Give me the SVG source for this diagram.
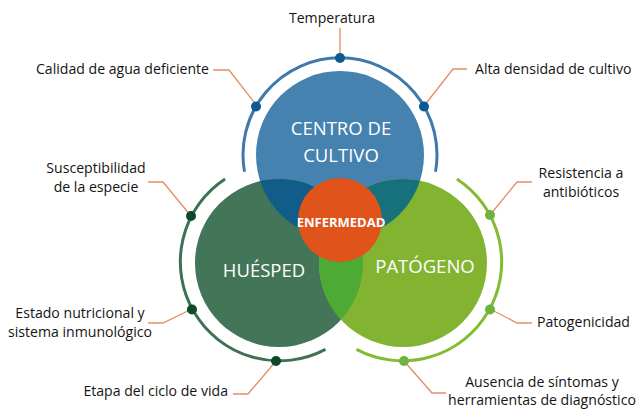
<svg xmlns="http://www.w3.org/2000/svg" width="636" height="410" viewBox="0 0 636 410">
<style>
.lbl{font-family:"Open Sans","Liberation Sans",sans-serif;font-size:14.1px;fill:#141414}
.big{font-family:"Open Sans","Liberation Sans",sans-serif;font-size:18.5px;fill:#ffffff}
.mid{font-family:"Open Sans","Liberation Sans",sans-serif;font-size:13px;font-weight:bold;fill:#ffffff}
.lead{fill:none;stroke:#e38d63;stroke-width:1.3}
.arc{fill:none;stroke-width:3}
</style>
<defs>
<clipPath id="cB"><circle cx="340" cy="155" r="84"/></clipPath>
<clipPath id="cDG"><circle cx="279" cy="263" r="84"/></clipPath>
</defs>
<rect width="636" height="410" fill="#ffffff"/>
<g id="connectors">
<path class="lead" d="M340,28 V58"/>
<path class="lead" d="M213,70 H229 L257,106"/>
<path class="lead" d="M424,106 L453,69 H467"/>
<path class="lead" d="M148,182 H163 L191,216"/>
<path class="lead" d="M148,323 H163 L192,309"/>
<path class="lead" d="M233,394 H248 L276,361"/>
<path class="lead" d="M490,215 L517,182 H532"/>
<path class="lead" d="M490,309 L517,323 H532"/>
<path class="lead" d="M404,361 L432,393 H446"/>
</g>
<g id="centro">
<circle cx="340" cy="155" r="84" fill="#4682b0"/>
<path class="arc" stroke="#3f79ab" d="M244.5,171.8 A97,97 0 1 1 435.5,171.8"/>
<circle cx="340" cy="58" r="5" fill="#0b5a92"/>
<circle cx="256" cy="106.5" r="5" fill="#0b5a92"/>
<circle cx="424" cy="106.5" r="5" fill="#0b5a92"/>
</g>
<g id="huesped">
<circle cx="279" cy="263" r="84" fill="#437558"/>
<path class="arc" stroke="#3e7256" d="M225.1,179 A99,99 0 0 0 325.5,349.4"/>
<circle cx="191" cy="216" r="5" fill="#0c4a2a"/>
<circle cx="192" cy="309.5" r="5" fill="#0c4a2a"/>
<circle cx="276" cy="361" r="5" fill="#0c4a2a"/>
</g>
<g id="patogeno">
<circle cx="403" cy="263" r="84" fill="#82b432"/>
<path class="arc" stroke="#84bb30" d="M456.9,179 A99,99 0 0 1 356.5,349.4"/>
<circle cx="490" cy="215" r="5" fill="#6db33f"/>
<circle cx="490" cy="309.5" r="5" fill="#6db33f"/>
<circle cx="404" cy="361" r="5" fill="#6db33f"/>
</g>
<g id="overlaps">
<circle cx="279" cy="263" r="84" fill="#0f5d88" clip-path="url(#cB)"/>
<circle cx="403" cy="263" r="84" fill="#17717d" clip-path="url(#cB)"/>
<circle cx="403" cy="263" r="84" fill="#4dab34" clip-path="url(#cDG)"/>
</g>
<g id="enfermedad">
<circle cx="340" cy="220" r="42" fill="#e0531a"/>
<text class="mid" x="341" y="227" text-anchor="middle">ENFERMEDAD</text>
</g>
<g id="titles">
<text class="big" x="341" y="135" text-anchor="middle">CENTRO DE</text>
<text class="big" x="341" y="162" text-anchor="middle">CULTIVO</text>
<text class="big" x="264" y="277" text-anchor="middle">HUÉSPED</text>
<text class="big" x="425" y="273" text-anchor="middle">PATÓGENO</text>
</g>
<g id="labels">
<text class="lbl" x="332" y="23" text-anchor="middle">Temperatura</text>
<text class="lbl" x="209" y="74" text-anchor="end">Calidad de agua deficiente</text>
<text class="lbl" x="475" y="74">Alta densidad de cultivo</text>
<text class="lbl" x="96" y="173" text-anchor="middle">Susceptibilidad</text>
<text class="lbl" x="96" y="192" text-anchor="middle">de la especie</text>
<text class="lbl" x="80" y="318" text-anchor="middle">Estado nutricional y</text>
<text class="lbl" x="80" y="337" text-anchor="middle">sistema inmunológico</text>
<text class="lbl" x="228" y="396" text-anchor="end">Etapa del ciclo de vida</text>
<text class="lbl" x="581" y="178" text-anchor="middle">Resistencia a</text>
<text class="lbl" x="581" y="197" text-anchor="middle">antibióticos</text>
<text class="lbl" x="537" y="327">Patogenicidad</text>
<text class="lbl" x="542" y="387" text-anchor="middle">Ausencia de síntomas y</text>
<text class="lbl" x="542" y="405" text-anchor="middle">herramientas de diagnóstico</text>
</g>
</svg>
